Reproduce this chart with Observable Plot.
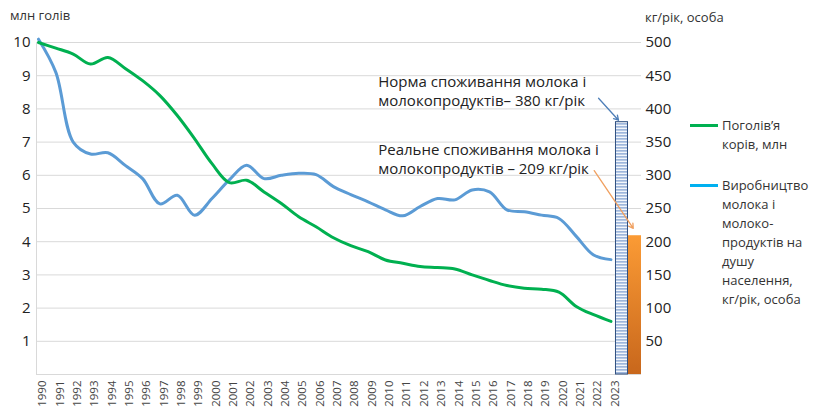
<!DOCTYPE html>
<html><head><meta charset="utf-8">
<script src="https://cdn.jsdelivr.net/npm/d3@7"></script>
<script src="https://cdn.jsdelivr.net/npm/@observablehq/plot@0.6"></script>
<style>
body{margin:0;background:#fff;font-family:"Open Sans",sans-serif;}
#wrap{position:relative;width:813px;height:409px;overflow:hidden;}
.lab{position:absolute;font-size:13px;color:#333;white-space:nowrap;}
.leg{position:absolute;font-size:13px;color:#333;line-height:19px;white-space:nowrap;}
.leg .sw{position:absolute;left:-32px;width:28px;height:3px;}
</style></head><body><div id="wrap"></div>
<script>
// ---- data ----
const years = [1990,1991,1992,1993,1994,1995,1996,1997,1998,1999,2000,2001,2002,2003,2004,2005,2006,2007,2008,2009,2010,2011,2012,2013,2014,2015,2016,2017,2018,2019,2020,2021,2022,2023];
const cows = [10.0,9.83,9.65,9.35,9.55,9.22,8.85,8.4,7.8,7.1,6.35,5.78,5.85,5.5,5.15,4.75,4.45,4.12,3.88,3.7,3.45,3.35,3.25,3.22,3.18,3.0,2.83,2.68,2.6,2.57,2.48,2.05,1.8,1.6];
const milkKg = [505,455,350,332,334,315,295,257,270,240,265,293,315,295,300,303,301,283,271,260,248,239,253,265,263,278,275,248,245,240,235,208,180,173];
const barNames = ["Норма споживання молока і\nмолокопродуктів– ", "Реальне споживання молока і\nмолокопродуктів – "];
const barValues = [380, 209];
const leftTicks = [1,2,3,4,5,6,7,8,9,10];
const rightTicks = [50,100,150,200,250,300,350,400,450,500];
const leftTitle = "млн голів";
const rightTitle = "кг/рік, особа";
const legendCows = ["Поголів’я", "корів, млн"];
const legendMilk = ["Виробництво", "молока і", "молоко-", "продуктів на", "душу", "населення,", "кг/рік, особа"];

// ---- derived ----
const leftMax = d3.max(leftTicks), rightMax = d3.max(rightTicks);
const k = rightMax / leftMax;
const cowRows = years.map((y, i) => ({year: y, v: cows[i]}));
const milkRows = years.map((y, i) => ({year: y, v: milkKg[i] / k}));
const lastYear = years[years.length - 1];
const barW = 0.75, barGap0 = 0.26;
const bars = barValues.map((v, i) => ({
  x1: lastYear + barGap0 + i * barW, x2: lastYear + barGap0 + (i + 1) * barW,
  v: v / k, label: barNames[i] + v + " кг/рік", i
}));
const ann = [ // annotation offsets (layout)
  {b: 0, tx: -14.05, ty: 1.47, ax1: -1.35, ay1: 0.72, ax2: -0.2, ay2: 0.06},
  {b: 1, tx: -14.8, ty: 2.84, ax1: -2.35, ay1: 1.96, ax2: -0.1, ay2: 0.22}
].map(a => ({...a, bar: bars[a.b]}));
const xDomain = [years[0] - 0.115, lastYear + barGap0 + 2 * barW];

const defs = () => {
  const d = d3.create("svg:defs");
  const p = d.append("pattern").attr("id", "stripes").attr("patternUnits", "userSpaceOnUse").attr("width", 6).attr("height", 3);
  p.append("rect").attr("width", 6).attr("height", 3).attr("fill", "#f4f7fb");
  p.append("rect").attr("width", 6).attr("height", 1.7).attr("fill", "#9fb7dc");
  const g = d.append("linearGradient").attr("id", "og").attr("x1", 0).attr("y1", 0).attr("x2", 0).attr("y2", 1);
  g.append("stop").attr("offset", "0%").attr("stop-color", "#fb9b35");
  g.append("stop").attr("offset", "100%").attr("stop-color", "#c8671c");
  return d.node();
};
const mid = a => (a.bar.x1 + a.bar.x2) / 2;

const chart = Plot.plot({
  width: 813, height: 409,
  marginLeft: 36, marginRight: 172, marginTop: 42, marginBottom: 35,
  style: {fontFamily: "Open Sans, sans-serif", fontSize: "14px", color: "#222", background: "transparent"},
  x: {domain: xDomain},
  y: {domain: [0, leftMax]},
  marks: [
    defs,
    Plot.gridY(leftTicks, {stroke: "#d9d9d9", strokeOpacity: 1}),
    Plot.ruleY([0], {stroke: "#d9d9d9"}),
    Plot.ruleX([xDomain[0]], {stroke: "#d9d9d9"}),
    Plot.axisY(leftTicks, {anchor: "left", tickSize: 0, tickPadding: 6, label: null, fontSize: 15}),
    Plot.axisY(rightTicks.map(v => v / k), {anchor: "right", tickSize: 0, tickPadding: 4, label: null, fontSize: 15, tickFormat: d => Math.round(d * k)}),
    Plot.axisX(years, {anchor: "bottom", tickSize: 0, tickPadding: 6, tickRotate: -90, label: null, fontSize: 11.5, tickFormat: d => String(d), fill: "#444", dx: 4}),
    Plot.line(milkRows, {x: "year", y: "v", stroke: "#5b9bd5", strokeWidth: 3, curve: "catmull-rom"}),
    Plot.line(cowRows, {x: "year", y: "v", stroke: "#00b050", strokeWidth: 3, curve: "catmull-rom"}),
    Plot.rect(bars.filter(b => b.i === 0), {x1: "x1", x2: "x2", y1: 0, y2: "v", fill: "url(#stripes)", stroke: "#2f4f80", strokeWidth: 1, insetLeft: 0.5, insetRight: 0.5}),
    Plot.rect(bars.filter(b => b.i === 1), {x1: "x1", x2: "x2", y1: 0, y2: "v", fill: "url(#og)"}),
    Plot.text(ann, {x: a => mid(a) + a.tx, y: a => a.bar.v + a.ty, text: a => a.bar.label, textAnchor: "start", lineAnchor: "top", lineHeight: 1.27, fontSize: 15, fill: "#222"}),
    Plot.arrow(ann.filter(a => a.b === 0), {x1: a => mid(a) + a.ax1, y1: a => a.bar.v + a.ay1, x2: a => mid(a) + a.ax2, y2: a => a.bar.v + a.ay2, stroke: "#4f7fb8", strokeWidth: 1.3, headLength: 6}),
    Plot.arrow(ann.filter(a => a.b === 1), {x1: a => mid(a) + a.ax1, y1: a => a.bar.v + a.ay1, x2: a => mid(a) + a.ax2, y2: a => a.bar.v + a.ay2, stroke: "#f0a060", strokeWidth: 1.3, headLength: 6})
  ]
});
const wrap = document.getElementById("wrap");
wrap.appendChild(chart);
chart.style.position = "absolute"; chart.style.left = "0"; chart.style.top = "0";

const t1 = document.createElement("div"); t1.className = "lab"; t1.style.left = "10px"; t1.style.top = "6px"; t1.textContent = leftTitle; wrap.appendChild(t1);
const t2 = document.createElement("div"); t2.className = "lab"; t2.style.left = "645px"; t2.style.top = "8px"; t2.textContent = rightTitle; wrap.appendChild(t2);

function legend(lines, color, top) {
  const d = document.createElement("div"); d.className = "leg"; d.style.left = "722px"; d.style.top = top + "px";
  d.innerHTML = `<span class="sw" style="background:${color};top:8px"></span>` + lines.join("<br>");
  wrap.appendChild(d);
}
legend(legendCows, "#00b050", 116);
legend(legendMilk, "#00b0f0", 176);
</script></body></html>
